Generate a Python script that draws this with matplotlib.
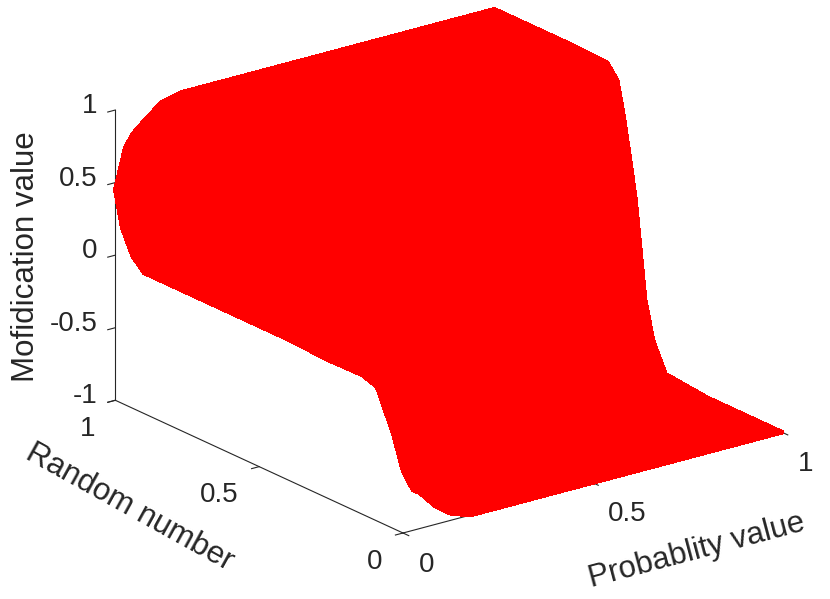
import matplotlib
matplotlib.use("Agg")
import numpy as np
import matplotlib.pyplot as plt
from matplotlib.transforms import ScaledTranslation
from mpl_toolkits.mplot3d import proj3d

prob = [0, .026, .045, .084, .124, .177, .3, .5, .75, 1]
rand = [0, .035, .09, .14, .26, .405, .448, .476, .493, .51, .528, .552, .573, .608, .75, .9, .94, .976, 1]
mod0 = [-.57, -.34, -.076, -.04, -.045, -.03, -.03, -.03, -.03, -.03, -.03, -.03, -.03, -.03, -.03, -.03, .05, .21, .45]
mod1 = [-.72, -.5, -.2, -.05, 0, .05, .05, .05, .05, .05, .05, .05, .05, .05, .05, .1, .3, .5, .72]
mod2 = [-.755, -.6, -.35, -.15, 0, .05, .05, .08, .08, .09, .1, .1, .1, .1, .1, .2, .45, .65, .8]
mod3 = [-.87, -.75, -.5, -.3, -.1, 0, .05, .1, .12, .14, .15, .2, .2, .2, .25, .4, .6, .78, .89]
mod4 = [-.95, -.85, -.65, -.45, -.2, -.05, 0, .1, .14, .18, .2, .25, .3, .3, .4, .6, .75, .9, .97]
mod5 = [-1, -.95, -.8, -.6, -.3, -.1, -.05, .1, .16, .22, .25, .3, .35, .4, .6, .8, .9, .97, 1]
mod6 = [-1, -1, -.95, -.85, -.5, -.2, -.1, .05, .15, .25, .3, .4, .5, .55, .8, .95, 1, 1, 1]
mod7 = [-1, -1, -1, -1, -.8, -.4, -.25, -.05, .1, .2, .3, .5, .6, .7, .95, 1, 1, 1, 1]
mod8 = [-1, -1, -1, -1, -1, -.75, -.6, -.3, -.15, 0, .1, .35, .6, .8, 1, 1, 1, 1, 1]
mod9 = [-1, -1, -1, -1, -1, -.97, -.78, -.52, -.18, .15, .39, .69, .90, .99, 1, 1, 1, 1, 1]
x_ticks = [0, 0.5, 1]
y_ticks = [0, 0.5, 1]
z_ticks = [-1, -0.5, 0, 0.5, 1]
z_labels = ['-1', '-0.5', '0', '0.5', '1']
x_labels = ['0', '0.5', '1']
y_labels = ['0', '0.5', '1']

W, H = 830, 599
plt.rcParams['font.family'] = ['Liberation Sans', 'DejaVu Sans']
fig = plt.figure(figsize=(W/100, H/100), dpi=100)
ax = fig.add_axes([0, 0, 1, 1], projection='3d', proj_type='ortho')
ax.set_box_aspect((476, 476, 310))
ax.view_init(elev=20.5, azim=-127.2)

P, R = np.meshgrid(prob, rand, indexing='ij')
Z = np.array([mod0, mod1, mod2, mod3, mod4, mod5, mod6, mod7, mod8, mod9])
ax.plot_surface(P, R, Z, rstride=1, cstride=1, color=(1, 0, 0), shade=False,
                edgecolor=(1, 0, 0), linewidth=2.5, antialiased=False)
ax.set_xlim(0, 1, view_margin=0)
ax.set_ylim(0, 1, view_margin=0)
ax.set_zlim(-1, 1, view_margin=0)

ink = '#262626'
ax.grid(False)
for a in (ax.xaxis, ax.yaxis, ax.zaxis):
    a.set_pane_color((1, 1, 1, 0))
    a.pane.set_edgecolor((1, 1, 1, 0))
    a.line.set_color(ink)
    a.line.set_linewidth(0.8)
    a._axinfo['tick']['inward_factor'] = 0.25
    a._axinfo['tick']['outward_factor'] = 0.0
    a._axinfo['tick']['linewidth'] = {True: 0.8, False: 0.5}
    a._axinfo['tick']['color'] = ink
ax.set_xticks(x_ticks, x_labels)
ax.set_yticks(y_ticks, y_labels)
ax.set_zticks(z_ticks, z_labels)
ax.tick_params(axis='both', labelsize=20, labelcolor=ink, color=ink, pad=0)
ax.tick_params(axis='z', labelsize=20, labelcolor=ink, color=ink, pad=0)
ax.set_xlabel('Probablity value', fontsize=22.5, color=ink, labelpad=0)
ax.set_ylabel('Random number', fontsize=22.5, color=ink, labelpad=0, rotation=-29)
ax.yaxis.set_rotate_label(False)
ax.set_zlabel('Mofidication value', fontsize=22.5, color=ink, labelpad=0, rotation=90)
ax.zaxis.set_rotate_label(False)

# fit the box on the reference frame: origin corner at (403,533), x axis end at (782,432)
def corner(x, y, z):
    ax.apply_aspect()
    X, Y, _ = proj3d.proj_transform(x, y, z, ax.get_proj())
    return ax.transData.transform((X, Y))

a0 = corner(0, 0, -1)
a1 = corner(1, 0, -1)
s = 379 / (a1[0] - a0[0])
side = min(W, H) * s
ax.set_position([0, 0, side/W, side/H])
a0 = corner(0, 0, -1)
ax.set_position([(403 - a0[0])/W, ((H-533) - a0[1])/H, side/W, side/H])

def shift(t, dx, dy):
    # Axis3D resets text transforms on each draw, so the offset goes on get_transform.
    # Offsets are in pixels: right and down positive, as on the picture.
    off = ScaledTranslation(dx/100, -dy/100, fig.dpi_scale_trans)
    t.get_transform = lambda: ax.transData + off

for tick in ax.xaxis.get_major_ticks():
    tick.label1.set_ha('left'); tick.label1.set_va('center')
    shift(tick.label1, 7, 19)
for tick in ax.yaxis.get_major_ticks():
    tick.label1.set_ha('right'); tick.label1.set_va('center')
    shift(tick.label1, -9, 17)
for tick in ax.zaxis.get_major_ticks():
    tick.label1.set_ha('right'); tick.label1.set_va('center')
    shift(tick.label1, 2, -3)
shift(ax.xaxis.label, 82, 35)
shift(ax.yaxis.label, -100, 10)
shift(ax.zaxis.label, -37, 4)

fig.savefig('out.png', dpi=100)
